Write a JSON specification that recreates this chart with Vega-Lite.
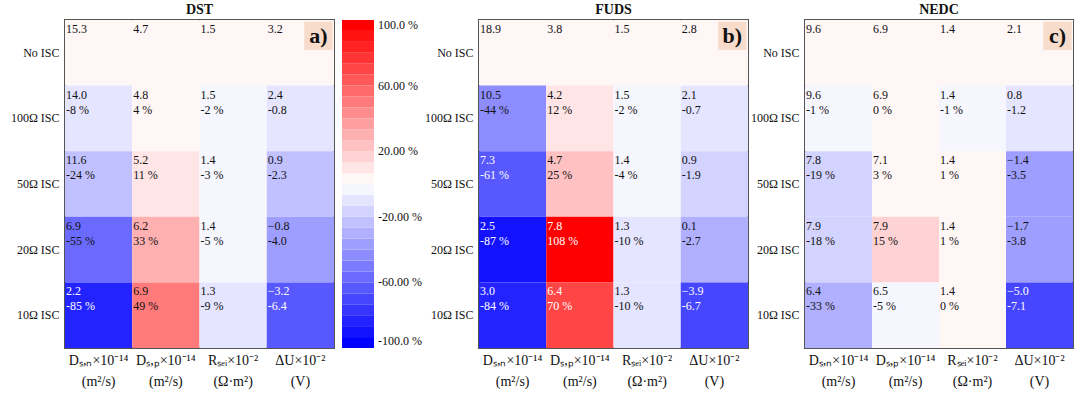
{
  "$schema": "https://vega.github.io/schema/vega-lite/v6.json",
  "padding": {"left": 9, "top": 2, "right": 0, "bottom": 0},
  "spacing": 0,
  "datasets": {
    "cells": [
      {"p": "DST", "r": "No ISC", "k": "Dₛ,ₙ×10⁻¹⁴|(m²/s)", "v": 15.3, "s": "", "c": 0},
      {"p": "DST", "r": "No ISC", "k": "Dₛ,ₚ×10⁻¹⁴|(m²/s)", "v": 4.7, "s": "", "c": 0},
      {"p": "DST", "r": "No ISC", "k": "Rₛₑᵢ×10⁻²|(Ω·m²)", "v": 1.5, "s": "", "c": 0},
      {"p": "DST", "r": "No ISC", "k": "ΔU×10⁻²|(V)", "v": 3.2, "s": "", "c": 0},
      {"p": "DST", "r": "100Ω ISC", "k": "Dₛ,ₙ×10⁻¹⁴|(m²/s)", "v": 14.0, "s": "-8 %", "c": -8},
      {"p": "DST", "r": "100Ω ISC", "k": "Dₛ,ₚ×10⁻¹⁴|(m²/s)", "v": 4.8, "s": "4 %", "c": 4},
      {"p": "DST", "r": "100Ω ISC", "k": "Rₛₑᵢ×10⁻²|(Ω·m²)", "v": 1.5, "s": "-2 %", "c": -2},
      {"p": "DST", "r": "100Ω ISC", "k": "ΔU×10⁻²|(V)", "v": 2.4, "s": "-0.8", "c": -8},
      {"p": "DST", "r": "50Ω ISC", "k": "Dₛ,ₙ×10⁻¹⁴|(m²/s)", "v": 11.6, "s": "-24 %", "c": -24},
      {"p": "DST", "r": "50Ω ISC", "k": "Dₛ,ₚ×10⁻¹⁴|(m²/s)", "v": 5.2, "s": "11 %", "c": 11},
      {"p": "DST", "r": "50Ω ISC", "k": "Rₛₑᵢ×10⁻²|(Ω·m²)", "v": 1.4, "s": "-3 %", "c": -3},
      {"p": "DST", "r": "50Ω ISC", "k": "ΔU×10⁻²|(V)", "v": 0.9, "s": "-2.3", "c": -23},
      {"p": "DST", "r": "20Ω ISC", "k": "Dₛ,ₙ×10⁻¹⁴|(m²/s)", "v": 6.9, "s": "-55 %", "c": -55},
      {"p": "DST", "r": "20Ω ISC", "k": "Dₛ,ₚ×10⁻¹⁴|(m²/s)", "v": 6.2, "s": "33 %", "c": 33},
      {"p": "DST", "r": "20Ω ISC", "k": "Rₛₑᵢ×10⁻²|(Ω·m²)", "v": 1.4, "s": "-5 %", "c": -5},
      {"p": "DST", "r": "20Ω ISC", "k": "ΔU×10⁻²|(V)", "v": -0.8, "s": "-4.0", "c": -40},
      {"p": "DST", "r": "10Ω ISC", "k": "Dₛ,ₙ×10⁻¹⁴|(m²/s)", "v": 2.2, "s": "-85 %", "c": -85},
      {"p": "DST", "r": "10Ω ISC", "k": "Dₛ,ₚ×10⁻¹⁴|(m²/s)", "v": 6.9, "s": "49 %", "c": 49},
      {"p": "DST", "r": "10Ω ISC", "k": "Rₛₑᵢ×10⁻²|(Ω·m²)", "v": 1.3, "s": "-9 %", "c": -9},
      {"p": "DST", "r": "10Ω ISC", "k": "ΔU×10⁻²|(V)", "v": -3.2, "s": "-6.4", "c": -64},
      {"p": "FUDS", "r": "No ISC", "k": "Dₛ,ₙ×10⁻¹⁴|(m²/s)", "v": 18.9, "s": "", "c": 0},
      {"p": "FUDS", "r": "No ISC", "k": "Dₛ,ₚ×10⁻¹⁴|(m²/s)", "v": 3.8, "s": "", "c": 0},
      {"p": "FUDS", "r": "No ISC", "k": "Rₛₑᵢ×10⁻²|(Ω·m²)", "v": 1.5, "s": "", "c": 0},
      {"p": "FUDS", "r": "No ISC", "k": "ΔU×10⁻²|(V)", "v": 2.8, "s": "", "c": 0},
      {"p": "FUDS", "r": "100Ω ISC", "k": "Dₛ,ₙ×10⁻¹⁴|(m²/s)", "v": 10.5, "s": "-44 %", "c": -44},
      {"p": "FUDS", "r": "100Ω ISC", "k": "Dₛ,ₚ×10⁻¹⁴|(m²/s)", "v": 4.2, "s": "12 %", "c": 12},
      {"p": "FUDS", "r": "100Ω ISC", "k": "Rₛₑᵢ×10⁻²|(Ω·m²)", "v": 1.5, "s": "-2 %", "c": -2},
      {"p": "FUDS", "r": "100Ω ISC", "k": "ΔU×10⁻²|(V)", "v": 2.1, "s": "-0.7", "c": -7},
      {"p": "FUDS", "r": "50Ω ISC", "k": "Dₛ,ₙ×10⁻¹⁴|(m²/s)", "v": 7.3, "s": "-61 %", "c": -61},
      {"p": "FUDS", "r": "50Ω ISC", "k": "Dₛ,ₚ×10⁻¹⁴|(m²/s)", "v": 4.7, "s": "25 %", "c": 25},
      {"p": "FUDS", "r": "50Ω ISC", "k": "Rₛₑᵢ×10⁻²|(Ω·m²)", "v": 1.4, "s": "-4 %", "c": -4},
      {"p": "FUDS", "r": "50Ω ISC", "k": "ΔU×10⁻²|(V)", "v": 0.9, "s": "-1.9", "c": -19},
      {"p": "FUDS", "r": "20Ω ISC", "k": "Dₛ,ₙ×10⁻¹⁴|(m²/s)", "v": 2.5, "s": "-87 %", "c": -87},
      {"p": "FUDS", "r": "20Ω ISC", "k": "Dₛ,ₚ×10⁻¹⁴|(m²/s)", "v": 7.8, "s": "108 %", "c": 108},
      {"p": "FUDS", "r": "20Ω ISC", "k": "Rₛₑᵢ×10⁻²|(Ω·m²)", "v": 1.3, "s": "-10 %", "c": -10},
      {"p": "FUDS", "r": "20Ω ISC", "k": "ΔU×10⁻²|(V)", "v": 0.1, "s": "-2.7", "c": -27},
      {"p": "FUDS", "r": "10Ω ISC", "k": "Dₛ,ₙ×10⁻¹⁴|(m²/s)", "v": 3.0, "s": "-84 %", "c": -84},
      {"p": "FUDS", "r": "10Ω ISC", "k": "Dₛ,ₚ×10⁻¹⁴|(m²/s)", "v": 6.4, "s": "70 %", "c": 70},
      {"p": "FUDS", "r": "10Ω ISC", "k": "Rₛₑᵢ×10⁻²|(Ω·m²)", "v": 1.3, "s": "-10 %", "c": -10},
      {"p": "FUDS", "r": "10Ω ISC", "k": "ΔU×10⁻²|(V)", "v": -3.9, "s": "-6.7", "c": -67},
      {"p": "NEDC", "r": "No ISC", "k": "Dₛ,ₙ×10⁻¹⁴|(m²/s)", "v": 9.6, "s": "", "c": 0},
      {"p": "NEDC", "r": "No ISC", "k": "Dₛ,ₚ×10⁻¹⁴|(m²/s)", "v": 6.9, "s": "", "c": 0},
      {"p": "NEDC", "r": "No ISC", "k": "Rₛₑᵢ×10⁻²|(Ω·m²)", "v": 1.4, "s": "", "c": 0},
      {"p": "NEDC", "r": "No ISC", "k": "ΔU×10⁻²|(V)", "v": 2.1, "s": "", "c": 0},
      {"p": "NEDC", "r": "100Ω ISC", "k": "Dₛ,ₙ×10⁻¹⁴|(m²/s)", "v": 9.6, "s": "-1 %", "c": -1},
      {"p": "NEDC", "r": "100Ω ISC", "k": "Dₛ,ₚ×10⁻¹⁴|(m²/s)", "v": 6.9, "s": "0 %", "c": 0},
      {"p": "NEDC", "r": "100Ω ISC", "k": "Rₛₑᵢ×10⁻²|(Ω·m²)", "v": 1.4, "s": "-1 %", "c": -1},
      {"p": "NEDC", "r": "100Ω ISC", "k": "ΔU×10⁻²|(V)", "v": 0.8, "s": "-1.2", "c": -12},
      {"p": "NEDC", "r": "50Ω ISC", "k": "Dₛ,ₙ×10⁻¹⁴|(m²/s)", "v": 7.8, "s": "-19 %", "c": -19},
      {"p": "NEDC", "r": "50Ω ISC", "k": "Dₛ,ₚ×10⁻¹⁴|(m²/s)", "v": 7.1, "s": "3 %", "c": 3},
      {"p": "NEDC", "r": "50Ω ISC", "k": "Rₛₑᵢ×10⁻²|(Ω·m²)", "v": 1.4, "s": "1 %", "c": 1},
      {"p": "NEDC", "r": "50Ω ISC", "k": "ΔU×10⁻²|(V)", "v": -1.4, "s": "-3.5", "c": -35},
      {"p": "NEDC", "r": "20Ω ISC", "k": "Dₛ,ₙ×10⁻¹⁴|(m²/s)", "v": 7.9, "s": "-18 %", "c": -18},
      {"p": "NEDC", "r": "20Ω ISC", "k": "Dₛ,ₚ×10⁻¹⁴|(m²/s)", "v": 7.9, "s": "15 %", "c": 15},
      {"p": "NEDC", "r": "20Ω ISC", "k": "Rₛₑᵢ×10⁻²|(Ω·m²)", "v": 1.4, "s": "1 %", "c": 1},
      {"p": "NEDC", "r": "20Ω ISC", "k": "ΔU×10⁻²|(V)", "v": -1.7, "s": "-3.8", "c": -38},
      {"p": "NEDC", "r": "10Ω ISC", "k": "Dₛ,ₙ×10⁻¹⁴|(m²/s)", "v": 6.4, "s": "-33 %", "c": -33},
      {"p": "NEDC", "r": "10Ω ISC", "k": "Dₛ,ₚ×10⁻¹⁴|(m²/s)", "v": 6.5, "s": "-5 %", "c": -5},
      {"p": "NEDC", "r": "10Ω ISC", "k": "Rₛₑᵢ×10⁻²|(Ω·m²)", "v": 1.4, "s": "0 %", "c": 0},
      {"p": "NEDC", "r": "10Ω ISC", "k": "ΔU×10⁻²|(V)", "v": -5.0, "s": "-7.1", "c": -71}
    ]
  },
  "resolve": {"legend": {"color": "independent"}},
  "hconcat": [
    {
      "title": "DST",
      "width": 269, "height": 328,
      "layer": [
        {
          "data": {"name": "cells"},
          "transform": [{"filter": "datum.p == 'DST'"}],
          "mark": {"type": "rect"},
          "encoding": {
            "x": {"field": "k", "type": "nominal", "scale": {"domain": ["Dₛ,ₙ×10⁻¹⁴|(m²/s)", "Dₛ,ₚ×10⁻¹⁴|(m²/s)", "Rₛₑᵢ×10⁻²|(Ω·m²)", "ΔU×10⁻²|(V)"], "paddingInner": 0, "paddingOuter": 0}},
            "y": {"field": "r", "type": "nominal", "scale": {"domain": ["No ISC", "100Ω ISC", "50Ω ISC", "20Ω ISC", "10Ω ISC"], "paddingInner": 0, "paddingOuter": 0}},
            "color": {"field": "c", "type": "quantitative",
              "scale": {"type": "quantize", "domain": [-100, 100], "range": ["#0000ff","#1212ff","#2323ff","#3535ff","#4646ff","#5858ff","#6a6aff","#7b7bff","#8d8dff","#9e9eff","#b0b0ff","#c1c1ff","#d3d3ff","#e5e5ff","#f6f6ff","#fff6f6","#ffe5e5","#ffd3d3","#ffc1c1","#ffb0b0","#ff9e9e","#ff8d8d","#ff7b7b","#ff6a6a","#ff5858","#ff4646","#ff3535","#ff2323","#ff1212","#ff0000"]},
              "legend": {"type": "gradient", "title": null, "orient": "right", "offset": 8, "direction": "vertical", "gradientLength": 328, "gradientThickness": 32, "gradientStrokeWidth": 0, "labelFontSize": 12, "labelOffset": 4, "labelColor": "#111", "labelOverlap": false,
                "values": [-100, -93.3333, -86.6666, -80, -73.3333, -66.6666, -60, -53.3333, -46.6666, -40, -33.3333, -26.6666, -20, -13.3333, -6.6666, 0, 6.6667, 13.3334, 20, 26.6667, 33.3334, 40, 46.6667, 53.3334, 60, 66.6667, 73.3334, 80, 86.6667, 93.3334, 100],
                "labelExpr": "(abs(abs(datum.value) - 100) < 0.01 || abs(abs(datum.value) - 60) < 0.01 || abs(abs(datum.value) - 20) < 0.01) ? replace(format(datum.value, '.4r'), '−', '-') + ' %' : ''"}}
          }
        },
        {
          "data": {"name": "cells"},
          "transform": [{"filter": "datum.p == 'DST'"}],
          "mark": {"type": "text", "align": "left", "baseline": "top", "dx": 1, "dy": 4, "fontSize": 12},
          "encoding": {
            "x": {"field": "k", "type": "nominal", "bandPosition": 0},
            "y": {"field": "r", "type": "nominal", "bandPosition": 0},
            "text": {"field": "v", "type": "quantitative", "format": ".1f"},
            "color": {"condition": {"test": "abs(datum.c) > 58", "value": "#ffffff"}, "value": "#111111"}
          }
        },
        {
          "data": {"name": "cells"},
          "transform": [{"filter": "datum.p == 'DST'"}],
          "mark": {"type": "text", "align": "left", "baseline": "top", "dx": 1, "dy": 19, "fontSize": 12},
          "encoding": {
            "x": {"field": "k", "type": "nominal", "bandPosition": 0},
            "y": {"field": "r", "type": "nominal", "bandPosition": 0},
            "text": {"field": "s", "type": "nominal"},
            "color": {"condition": {"test": "abs(datum.c) > 58", "value": "#ffffff"}, "value": "#111111"}
          }
        },
        {
          "data": {"values": [{"tag": "a)"}]},
          "mark": {"type": "point", "shape": "square", "filled": true, "size": 800, "color": "#f8dccb", "opacity": 1, "xOffset": 18, "yOffset": -17},
          "encoding": {"x": {"datum": "ΔU×10⁻²|(V)"}, "y": {"datum": "No ISC"}}
        },
        {
          "data": {"values": [{"tag": "a)"}]},
          "mark": {"type": "text", "fontSize": 22, "fontWeight": "bold", "color": "#111", "xOffset": 18, "yOffset": -17, "baseline": "middle", "align": "center"},
          "encoding": {"x": {"datum": "ΔU×10⁻²|(V)"}, "y": {"datum": "No ISC"}, "text": {"field": "tag"}}
        }
      ]
    },
    {
      "title": "FUDS",
      "width": 269, "height": 328,
      "layer": [
        {
          "data": {"name": "cells"},
          "transform": [{"filter": "datum.p == 'FUDS'"}],
          "mark": {"type": "rect"},
          "encoding": {
            "x": {"field": "k", "type": "nominal", "scale": {"domain": ["Dₛ,ₙ×10⁻¹⁴|(m²/s)", "Dₛ,ₚ×10⁻¹⁴|(m²/s)", "Rₛₑᵢ×10⁻²|(Ω·m²)", "ΔU×10⁻²|(V)"], "paddingInner": 0, "paddingOuter": 0}},
            "y": {"field": "r", "type": "nominal", "scale": {"domain": ["No ISC", "100Ω ISC", "50Ω ISC", "20Ω ISC", "10Ω ISC"], "paddingInner": 0, "paddingOuter": 0}},
            "color": {"field": "c", "type": "quantitative",
              "scale": {"type": "quantize", "domain": [-100, 100], "range": ["#0000ff","#1212ff","#2323ff","#3535ff","#4646ff","#5858ff","#6a6aff","#7b7bff","#8d8dff","#9e9eff","#b0b0ff","#c1c1ff","#d3d3ff","#e5e5ff","#f6f6ff","#fff6f6","#ffe5e5","#ffd3d3","#ffc1c1","#ffb0b0","#ff9e9e","#ff8d8d","#ff7b7b","#ff6a6a","#ff5858","#ff4646","#ff3535","#ff2323","#ff1212","#ff0000"]},
              "legend": null}
          }
        },
        {
          "data": {"name": "cells"},
          "transform": [{"filter": "datum.p == 'FUDS'"}],
          "mark": {"type": "text", "align": "left", "baseline": "top", "dx": 1, "dy": 4, "fontSize": 12},
          "encoding": {
            "x": {"field": "k", "type": "nominal", "bandPosition": 0},
            "y": {"field": "r", "type": "nominal", "bandPosition": 0},
            "text": {"field": "v", "type": "quantitative", "format": ".1f"},
            "color": {"condition": {"test": "abs(datum.c) > 58", "value": "#ffffff"}, "value": "#111111"}
          }
        },
        {
          "data": {"name": "cells"},
          "transform": [{"filter": "datum.p == 'FUDS'"}],
          "mark": {"type": "text", "align": "left", "baseline": "top", "dx": 1, "dy": 19, "fontSize": 12},
          "encoding": {
            "x": {"field": "k", "type": "nominal", "bandPosition": 0},
            "y": {"field": "r", "type": "nominal", "bandPosition": 0},
            "text": {"field": "s", "type": "nominal"},
            "color": {"condition": {"test": "abs(datum.c) > 58", "value": "#ffffff"}, "value": "#111111"}
          }
        },
        {
          "data": {"values": [{"tag": "b)"}]},
          "mark": {"type": "point", "shape": "square", "filled": true, "size": 800, "color": "#f8dccb", "opacity": 1, "xOffset": 18, "yOffset": -17},
          "encoding": {"x": {"datum": "ΔU×10⁻²|(V)"}, "y": {"datum": "No ISC"}}
        },
        {
          "data": {"values": [{"tag": "b)"}]},
          "mark": {"type": "text", "fontSize": 22, "fontWeight": "bold", "color": "#111", "xOffset": 18, "yOffset": -17, "baseline": "middle", "align": "center"},
          "encoding": {"x": {"datum": "ΔU×10⁻²|(V)"}, "y": {"datum": "No ISC"}, "text": {"field": "tag"}}
        }
      ]
    },
    {
      "title": "NEDC",
      "width": 268, "height": 328,
      "layer": [
        {
          "data": {"name": "cells"},
          "transform": [{"filter": "datum.p == 'NEDC'"}],
          "mark": {"type": "rect"},
          "encoding": {
            "x": {"field": "k", "type": "nominal", "scale": {"domain": ["Dₛ,ₙ×10⁻¹⁴|(m²/s)", "Dₛ,ₚ×10⁻¹⁴|(m²/s)", "Rₛₑᵢ×10⁻²|(Ω·m²)", "ΔU×10⁻²|(V)"], "paddingInner": 0, "paddingOuter": 0}},
            "y": {"field": "r", "type": "nominal", "scale": {"domain": ["No ISC", "100Ω ISC", "50Ω ISC", "20Ω ISC", "10Ω ISC"], "paddingInner": 0, "paddingOuter": 0}},
            "color": {"field": "c", "type": "quantitative",
              "scale": {"type": "quantize", "domain": [-100, 100], "range": ["#0000ff","#1212ff","#2323ff","#3535ff","#4646ff","#5858ff","#6a6aff","#7b7bff","#8d8dff","#9e9eff","#b0b0ff","#c1c1ff","#d3d3ff","#e5e5ff","#f6f6ff","#fff6f6","#ffe5e5","#ffd3d3","#ffc1c1","#ffb0b0","#ff9e9e","#ff8d8d","#ff7b7b","#ff6a6a","#ff5858","#ff4646","#ff3535","#ff2323","#ff1212","#ff0000"]},
              "legend": null}
          }
        },
        {
          "data": {"name": "cells"},
          "transform": [{"filter": "datum.p == 'NEDC'"}],
          "mark": {"type": "text", "align": "left", "baseline": "top", "dx": 1, "dy": 4, "fontSize": 12},
          "encoding": {
            "x": {"field": "k", "type": "nominal", "bandPosition": 0},
            "y": {"field": "r", "type": "nominal", "bandPosition": 0},
            "text": {"field": "v", "type": "quantitative", "format": ".1f"},
            "color": {"condition": {"test": "abs(datum.c) > 58", "value": "#ffffff"}, "value": "#111111"}
          }
        },
        {
          "data": {"name": "cells"},
          "transform": [{"filter": "datum.p == 'NEDC'"}],
          "mark": {"type": "text", "align": "left", "baseline": "top", "dx": 1, "dy": 19, "fontSize": 12},
          "encoding": {
            "x": {"field": "k", "type": "nominal", "bandPosition": 0},
            "y": {"field": "r", "type": "nominal", "bandPosition": 0},
            "text": {"field": "s", "type": "nominal"},
            "color": {"condition": {"test": "abs(datum.c) > 58", "value": "#ffffff"}, "value": "#111111"}
          }
        },
        {
          "data": {"values": [{"tag": "c)"}]},
          "mark": {"type": "point", "shape": "square", "filled": true, "size": 800, "color": "#f8dccb", "opacity": 1, "xOffset": 18, "yOffset": -17},
          "encoding": {"x": {"datum": "ΔU×10⁻²|(V)"}, "y": {"datum": "No ISC"}}
        },
        {
          "data": {"values": [{"tag": "c)"}]},
          "mark": {"type": "text", "fontSize": 22, "fontWeight": "bold", "color": "#111", "xOffset": 18, "yOffset": -17, "baseline": "middle", "align": "center"},
          "encoding": {"x": {"datum": "ΔU×10⁻²|(V)"}, "y": {"datum": "No ISC"}, "text": {"field": "tag"}}
        }
      ]
    }
  ],
  "config": {
    "font": "Liberation Serif",
    "view": {"stroke": "#555555", "strokeWidth": 2},
    "title": {"fontSize": 14, "fontWeight": "bold", "offset": 3, "color": "#111111", "anchor": "middle"},
    "axisX": {"orient": "bottom", "title": null, "ticks": false, "domain": false, "grid": false, "labelAngle": 0, "labelFontSize": 14, "labelPadding": 5, "labelLineHeight": 21, "labelColor": "#111111", "labelExpr": "split(datum.label, '|')", "labelLimit": 200},
    "axisY": {"title": null, "ticks": false, "domain": false, "grid": false, "labelFontSize": 12, "labelPadding": 6, "labelColor": "#111111"}
  }
}
